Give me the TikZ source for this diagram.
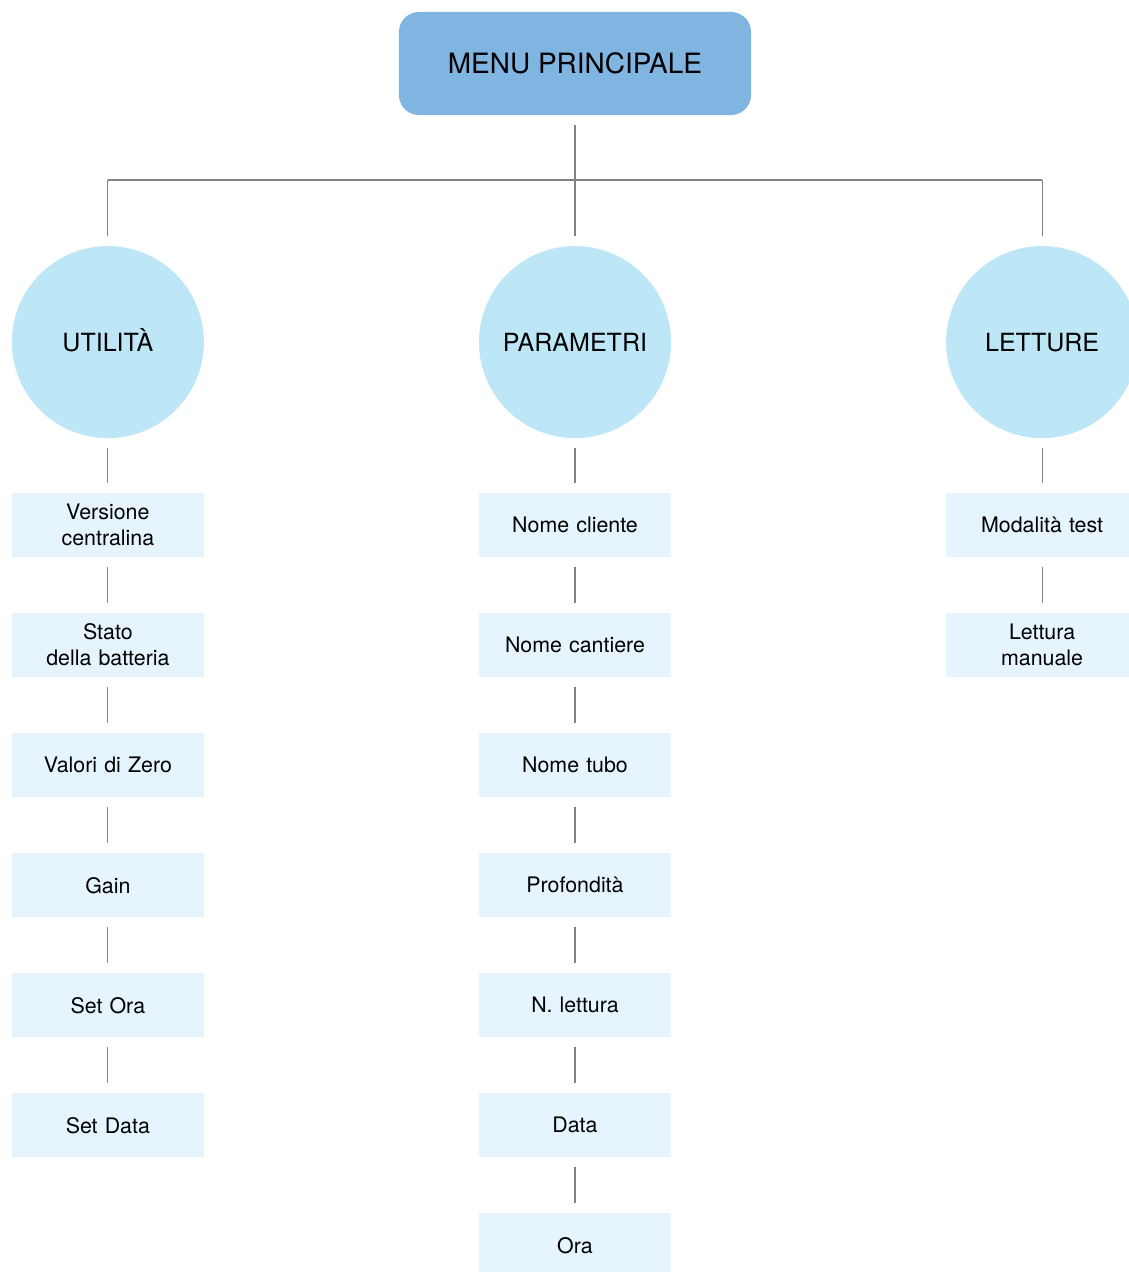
\documentclass[tikz,border=0pt]{standalone}
\usepackage{fontspec}
\setmainfont{TeX Gyre Heros}
\usepackage{xcolor}
\usetikzlibrary{positioning, calc}

\definecolor{menublue}{RGB}{128,180,225}
\definecolor{topicblue}{RGB}{189,230,247}
\definecolor{itemblue}{RGB}{230,245,253}
\definecolor{linegray}{RGB}{130,130,130}

\begin{document}
\begin{tikzpicture}[
  x=0.025cm, y=-0.025cm,
  node distance = 1.4cm,
  mainbox/.style = {rectangle, rounded corners=0.5cm, fill=menublue, minimum width=8.8cm, minimum height=2.575cm, outer sep=0pt, font=\fontsize{19.9}{24}\selectfont},
  topic/.style = {circle, fill=topicblue, minimum size=4.8cm, inner sep=0pt, outer sep=0pt, text height=12.8pt, text depth=0pt, font=\fontsize{17.8}{21}\selectfont},
  item/.style = {rectangle, fill=itemblue, minimum width=4.8cm, minimum height=1.6cm, text width=4.6cm, align=center, inner sep=0pt, outer sep=0pt, font=\fontsize{15.2}{18.5}\selectfont},
  line/.style = {draw, linegray, line width=0.75pt, shorten <=0.25cm, shorten >=0.25cm}
  ]
 \useasboundingbox (0,0) rectangle (1129,1272);
 \clip (0,0) rectangle (1129,1272);
 % Main menu
 \node[mainbox] (menu) at (575,63.5) {MENU PRINCIPALE};
 % Topics
 \node[topic, below=3.275cm of menu] (param) {PARAMETRI};
 \node[topic, left=6.875cm of param] (util) {UTILITÀ};
 \node[topic, right=6.875cm of param] (lett) {LETTURE};
 % Bar
 \coordinate (bar) at (575,180);
 \coordinate (barL) at (util |- bar);
 \coordinate (barR) at (lett |- bar);
 % Utilita items
 \node[item, below=1.375cm of util] (versione) {Versione\\centralina};
 \node[item, below=of versione] (stato) {Stato\\della batteria};
 \node[item, below=of stato] (zero) {Valori di Zero};
 \node[item, below=of zero] (gain) {Gain};
 \node[item, below=of gain] (setora) {Set Ora};
 \node[item, below=of setora] (setdata) {Set Data};
 % Parametri items
 \node[item, below=1.375cm of param] (cliente) {Nome cliente};
 \node[item, below=of cliente] (cantiere) {Nome cantiere};
 \node[item, below=of cantiere] (tubo) {Nome tubo};
 \node[item, below=of tubo] (prof) {Profondità};
 \node[item, below=of prof] (nlett) {N. lettura};
 \node[item, below=of nlett] (data) {Data};
 \node[item, below=of data] (ora) {Ora};
 % Letture items
 \node[item, below=1.375cm of lett] (modtest) {Modalità test};
 \node[item, below=of modtest] (manuale) {Lettura\\manuale};
 % Lines
 \draw[line] (menu) -- (param);
 \draw[line, shorten <=0pt, shorten >=0pt] (barL) -- (barR);
 \draw[line, shorten <=0pt] (barL) -- (util);
 \draw[line, shorten <=0pt] (barR) -- (lett);
 \draw[line] (util) -- (versione);
 \draw[line] (versione) -- (stato);
 \draw[line] (stato) -- (zero);
 \draw[line] (zero) -- (gain);
 \draw[line] (gain) -- (setora);
 \draw[line] (setora) -- (setdata);
 \draw[line] (param) -- (cliente);
 \draw[line] (cliente) -- (cantiere);
 \draw[line] (cantiere) -- (tubo);
 \draw[line] (tubo) -- (prof);
 \draw[line] (prof) -- (nlett);
 \draw[line] (nlett) -- (data);
 \draw[line] (data) -- (ora);
 \draw[line] (lett) -- (modtest);
 \draw[line] (modtest) -- (manuale);
\end{tikzpicture}
\end{document}
